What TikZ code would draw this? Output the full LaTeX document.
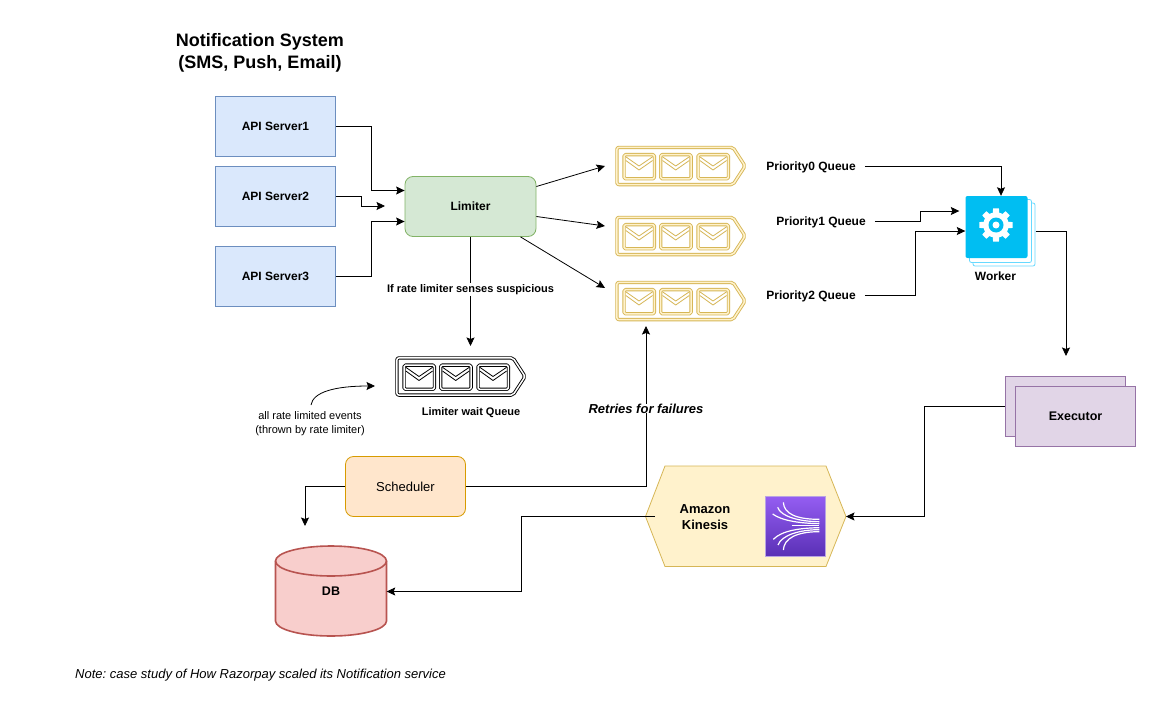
\documentclass[tikz,border=0pt]{standalone}
\usepackage{fontspec}
\setmainfont{Liberation Sans}
\usetikzlibrary{arrows.meta,positioning,shapes.geometric,calc}
\definecolor{goldline}{HTML}{D6B656}
\definecolor{goldfill}{HTML}{FFF2CC}
\definecolor{cyanbox}{HTML}{00BEF2}
\definecolor{cyanline}{HTML}{66D9FF}
\tikzset{
  box/.style={draw=#1,line width=0.8pt,minimum width=120pt,minimum height=60pt,inner sep=0pt,align=center,font=\fontsize{12}{14}\selectfont\bfseries},
  apibox/.style={box=apiline,fill=apifill},
  label/.style={inner sep=0pt,align=center,font=\fontsize{12}{14}\selectfont\bfseries},
  small/.style={inner sep=0pt,align=center,font=\fontsize{11}{14}\selectfont},
  conn/.style={draw=black,line width=0.8pt,-{Stealth[length=8.5pt,width=8pt,inset=1.5pt]}},
  qline/.style={draw=#1,line width=0.9pt,double=qdouble,double distance=1.5pt,line join=round},
  qanchor/.style={minimum width=130pt,minimum height=40pt,inner sep=0pt},
}
\definecolor{apifill}{HTML}{DAE8FC}\definecolor{apiline}{HTML}{6C8EBF}
\definecolor{limfill}{HTML}{D5E8D4}\definecolor{limline}{HTML}{82B366}
\definecolor{schfill}{HTML}{FFE6CC}\definecolor{schline}{HTML}{D79B00}
\definecolor{dbfill}{HTML}{F8CECC}\definecolor{dbline}{HTML}{B85450}
\definecolor{exfill}{HTML}{E1D5E7}\definecolor{exline}{HTML}{9673A6}
\definecolor{kintop}{HTML}{945DF2}\definecolor{kinbot}{HTML}{5A30B5}\definecolor{kinedge}{HTML}{B9A3E3}
% name, left, top, line colour, gap colour
\newcommand{\mailqueue}[5]{%
  \colorlet{qdouble}{#5}%
  \begin{scope}[shift={(#2,#3)}]
    \draw[qline=#4,rounded corners=2pt] (1.4,1.4) -- (117.5,1.4) -- (129.6,20) -- (117.5,38.6) -- (1.4,38.6) -- cycle;
    \foreach \dx in {8.5,45.2,82.5}{
      \draw[qline=#4,rounded corners=1.5pt] (\dx,8.6) rectangle ++(30.4,24.2);
      \draw[draw=#4,line width=0.8pt] (\dx+1.8,10.8) -- (\dx+15,20) -- (\dx+28.6,10.8);
      \draw[draw=#4,line width=0.8pt] (\dx+1.8,14.5) -- (\dx+15,24) -- (\dx+28.6,14.5);
    }
    \node[qanchor] (#1) at (65,20) {};
  \end{scope}}
\begin{document}
\begin{tikzpicture}[x=1pt,y=-1pt]
\frenchspacing
\useasboundingbox (0,0) rectangle (1167,717);
\fill[white] (0,0) rectangle (1167,717);

% title
\node[inner sep=0pt,align=center,font=\fontsize{18}{22}\selectfont\bfseries] (title) at (260,53) {Notification System\\(SMS, Push, Email)};

% api servers
\node[apibox] (api1) at (275.5,126.5) {API Server1};
\node[apibox] (api2) at (275.5,196.5) {API Server2};
\node[apibox] (api3) at (275.5,276.5) {API Server3};

% limiter
\node[box=limline,fill=limfill,rounded corners=8pt,minimum width=131pt] (limiter) at (470.5,206.5) {Limiter};

% queues
\mailqueue{q0}{615.5}{146}{goldline}{goldfill}
\mailqueue{q1}{615.5}{216}{goldline}{goldfill}
\mailqueue{q2}{615.5}{281}{goldline}{goldfill}
\mailqueue{qw}{395.5}{356.5}{black}{white}

\node[label] (p0) at (811,167) {Priority0 Queue};
\node[label] (p1) at (821,222) {Priority1 Queue};
\node[label] (p2) at (811,296) {Priority2 Queue};
\node[label,font=\fontsize{11}{13}\selectfont\bfseries] (qwlabel) at (471,412.5) {Limiter wait Queue};
\node[label,font=\fontsize{11}{13}\selectfont\bfseries,fill=white,inner sep=1pt] (susp) at (470.5,289.5) {If rate limiter senses suspicious};
\node[small] (evlabel) at (310,423.5) {all rate limited events\\(thrown by rate limiter)};

% worker
\draw[draw=cyanline,fill=white,line width=0.8pt,rounded corners=2pt] (973,203) rectangle (1035,266);
\draw[draw=cyanline,fill=white,line width=0.8pt,rounded corners=2pt] (969.5,199.5) rectangle (1031.5,262.5);
\node[fill=cyanbox,rounded corners=2pt,minimum width=62pt,minimum height=62pt,inner sep=0pt] (worker) at (996.5,227) {};
\coordinate (gearc) at (996,225);
\foreach \a in {0,45,...,315}{
  \fill[white] ($(gearc)+(\a-16:12)$) -- ($(gearc)+(\a-10:16.8)$) -- ($(gearc)+(\a+10:16.8)$) -- ($(gearc)+(\a+16:12)$) -- cycle;
}
\fill[white] (gearc) circle (12.8pt);
\fill[cyanbox] (gearc) circle (7.5pt);
\fill[white] (gearc) circle (3.5pt);
\node[label] (wlabel) at (995.5,276.5) {Worker};

% executor
\node[box=exline,fill=exfill] (execb) at (1065.5,406) {};
\node[box=exline,fill=exfill,font=\fontsize{12.5}{14}\selectfont\bfseries] (exec) at (1075.5,416) {Executor};

% kinesis
\draw[draw=goldline,fill=goldfill,line width=0.8pt] (645.5,516.5) -- (665,466) -- (826,466) -- (846,516.5) -- (826,566.5) -- (665,566.5) -- cycle;
\node[inner sep=0pt,minimum width=200.5pt,minimum height=100pt] (kinesis) at (745.5,516.5) {};
\node[label,font=\fontsize{13}{16}\selectfont\bfseries] (kintext) at (705,517.5) {Amazon\\Kinesis};
\shade[top color=kintop,bottom color=kinbot,draw=kinedge,line width=0.8pt] (765,496.5) rectangle (825.5,556.5);
\begin{scope}[shift={(760,490)},x=0.3333pt,y=-0.3333pt,draw=white,line width=1.2pt]
  \draw (70,37) .. controls (72,72) and (110,88) .. (178,88);
  \draw (53,52) .. controls (62,80) and (120,95) .. (178,95);
  \draw (38,72) .. controls (65,92) and (120,100) .. (178,101);
  \draw (95,107) -- (178,107);
  \draw (40,148) .. controls (65,122) and (120,114) .. (178,113);
  \draw (54,165) .. controls (65,135) and (120,119) .. (178,119);
  \draw (70,180) .. controls (72,145) and (110,125) .. (178,125);
\end{scope}

% scheduler
\node[box=schline,fill=schfill,rounded corners=8pt,font=\fontsize{13}{14}\selectfont] (sched) at (405.5,486.5) {Scheduler};

% db
\draw[draw=dbline,fill=dbfill,line width=1.6pt] (275.5,561) arc[start angle=180,end angle=0,x radius=55.5pt,y radius=15pt] -- (386.5,621) arc[start angle=0,end angle=-180,x radius=55.5pt,y radius=15pt] -- cycle;
\draw[draw=dbline,line width=1.6pt] (275.5,561) arc[start angle=180,end angle=360,x radius=55.5pt,y radius=15pt];
\node[font=\fontsize{12.5}{14}\selectfont\bfseries,inner sep=0pt,minimum width=111pt,minimum height=90pt] (db) at (331,591.5) {DB};

% notes
\node[anchor=west,inner sep=0pt,font=\fontsize{13}{15}\selectfont\itshape] (note) at (75,675) {Note: case study of How Razorpay scaled its Notification service};
\node[inner sep=0pt,font=\fontsize{13}{15}\selectfont\bfseries\itshape,fill=white] (retry) at (646,408.5) {Retries for failures};

% free ends
\coordinate (a2end) at (385,206);
\coordinate (l0) at (605,166);
\coordinate (l1) at (605,226);
\coordinate (l2) at (605,288);
\coordinate (qwend) at (471,346);
\coordinate (wend) at (1066,356);
\coordinate (sdown) at (305,526);
\coordinate (r1) at (646,326);
\coordinate (evend) at (375,386);
\coordinate (evstart) at (311,405);

% connectors
\draw[conn] (api1.east) -- ++(35.5,0) |- ([yshift=16pt]limiter.west);
\draw[conn] (api2.east) -- ++(25.5,0) |- (a2end);
\draw[conn] (api3.east) -- ++(35.5,0) |- ([yshift=-15pt]limiter.west);
\draw[conn] ([yshift=20pt]limiter.east) -- (l0);
\draw[conn] ([yshift=-10pt]limiter.east) -- (l1);
\draw[conn] ([xshift=50pt]limiter.south) -- (l2);
\draw[line width=0.8pt] (limiter.south) -- (susp.north);
\draw[conn] (susp.south) -- (qwend -| susp.south);
\draw[conn] ([xshift=9pt,yshift=1pt]p0.east) -| ([xshift=4.5pt]worker.north);
\draw[conn] ([xshift=9pt,yshift=1pt]p1.east) -- ++(45.5,0) |- ([xshift=-6pt,yshift=16pt]worker.west);
\draw[conn] ([xshift=9pt,yshift=1pt]p2.east) -- ++(50.5,0) |- ([yshift=-4pt]worker.west);
\draw[conn] (1035.5,231) -| (wend);
\draw[conn] (execb.west) -- ++(-80.5,0) |- (kinesis.east);
\draw[conn] (kinesis.west) ++(10,0) -- ++(-134,0) |- (db.east);
\draw[conn] (sched.west) -| (sdown);
\draw[line width=0.8pt] (sched.east) -| (retry.south);
\draw[conn] (retry.north) -- (r1);
\draw[conn] (evstart) .. controls (313,392) and (335,386) .. (evend);
\end{tikzpicture}
\end{document}
